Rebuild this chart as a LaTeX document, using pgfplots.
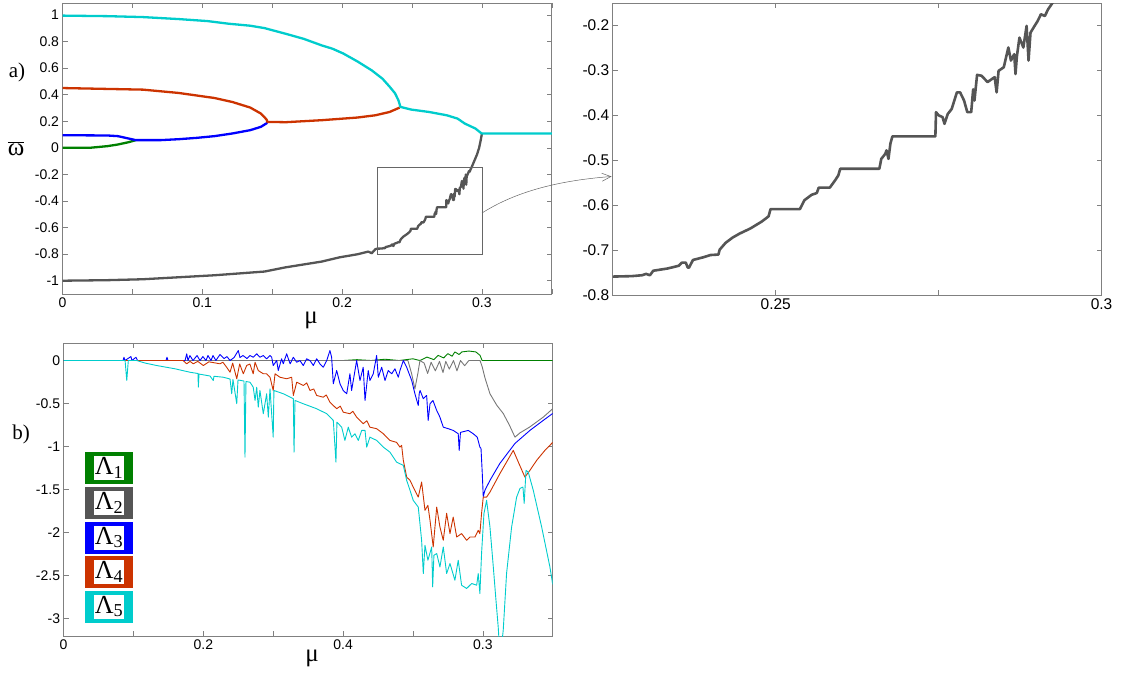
\documentclass[border=0pt]{standalone}
\usepackage{pgfplots}
\pgfplotsset{compat=1.18}
\usepackage{pgfplotstable}
\usepackage{fontspec}
\setmainfont{Liberation Sans}
\newfontfamily\tms{Liberation Serif}
\usetikzlibrary{arrows.meta}
\definecolor{cG}{RGB}{0,128,0}
\definecolor{cK}{RGB}{85,85,85}
\definecolor{cB}{RGB}{0,0,255}
\definecolor{cR}{RGB}{204,51,0}
\definecolor{cC}{RGB}{0,204,204}
\definecolor{frm}{RGB}{128,128,128}

% ---------- panel a) data ----------
\pgfplotstableread{
x y
0 0.995
0.032 0.991
0.0575 0.984
0.0831 0.969
0.1036 0.954
0.1189 0.934
0.1343 0.919
0.1445 0.901
0.1598 0.858
0.1726 0.82
0.1854 0.771
0.1931 0.746
0.2008 0.71
0.211 0.65
0.2212 0.583
0.2289 0.52
0.234 0.46
0.2379 0.41
0.2404 0.355
0.2417 0.308
0.2494 0.288
0.2621 0.270
0.2749 0.245
0.2826 0.22
0.2877 0.183
0.2954 0.145
0.2992 0.113
0.3 0.108
0.35 0.108
}\topC

\pgfplotstableread{
x y
0 0.45
0.0575 0.438
0.0831 0.413
0.1087 0.375
0.1215 0.345
0.1343 0.303
0.1419 0.258
0.146 0.213
0.1465 0.195
0.1598 0.193
0.1854 0.208
0.211 0.228
0.2238 0.245
0.234 0.27
0.2412 0.303
}\topR

\pgfplotstableread{
x y
0 0.095
0.032 0.093
0.0396 0.088
0.0473 0.07
0.0524 0.058
0.0703 0.058
0.0831 0.065
0.0959 0.075
0.1087 0.088
0.1215 0.108
0.1343 0.133
0.1419 0.158
0.1465 0.188
}\topB

\pgfplotstableread{
x y
0 0
0.0192 0
0.032 0.0125
0.0396 0.025
0.0473 0.0425
0.0524 0.058
}\topG

\pgfplotstableread{
x y
0 -1.0
0.032 -0.996
0.0575 -0.989
0.0831 -0.974
0.1087 -0.959
0.1445 -0.931
0.1598 -0.899
0.1854 -0.856
0.1982 -0.824
0.211 -0.801
0.2187 -0.781
0.2212 -0.793
0.2238 -0.763
0.225 -0.759
0.2279 -0.758
0.2295 -0.756
0.2301 -0.753
0.2307 -0.756
0.2312 -0.746
0.2334 -0.741
0.2351 -0.735
0.2356 -0.728
0.2362 -0.728
0.2365 -0.739
0.2367 -0.739
0.2373 -0.722
0.2389 -0.716
0.2400 -0.711
0.2412 -0.710
0.2414 -0.699
0.2423 -0.684
0.2434 -0.672
0.2445 -0.663
0.2461 -0.652
0.2478 -0.637
0.2489 -0.625
0.2492 -0.609
0.2537 -0.609
0.2544 -0.589
0.2555 -0.577
0.2563 -0.573
0.2566 -0.561
0.2583 -0.561
0.2591 -0.545
0.2596 -0.534
0.2599 -0.519
0.2659 -0.519
0.2662 -0.497
0.2668 -0.486
0.2670 -0.478
0.2673 -0.497
0.2676 -0.463
0.2679 -0.447
0.2745 -0.447
0.2746 -0.393
0.2750 -0.400
0.2756 -0.404
0.2759 -0.419
0.2764 -0.397
0.2770 -0.386
0.2778 -0.349
0.2783 -0.349
0.2789 -0.367
0.2794 -0.393
0.2800 -0.393
0.2803 -0.342
0.2805 -0.367
0.2809 -0.310
0.2816 -0.312
0.2825 -0.326
0.2836 -0.315
0.2839 -0.349
0.2842 -0.301
0.2850 -0.293
0.2857 -0.249
0.2861 -0.278
0.2866 -0.264
0.2868 -0.308
0.2870 -0.270
0.2874 -0.227
0.2880 -0.249
0.2885 -0.201
0.2888 -0.278
0.2891 -0.216
0.2896 -0.204
0.2902 -0.190
0.2907 -0.175
0.2913 -0.179
0.2918 -0.164
0.2927 -0.145
0.2945 -0.10
0.2965 -0.05
0.2980 0.0
0.2992 0.06
0.3 0.108
}\topK

% ---------- panel b) data ----------
\pgfplotstableread{
x y
0 0
0.2 0
0.21 0.01
0.22 0
0.23 0.015
0.24 0
0.25 0.02
0.255 0
0.26 0.04
0.265 0.01
0.268 0.06
0.272 0.03
0.275 0.08
0.278 0.05
0.28 0.10
0.283 0.07
0.285 0.10
0.29 0.11
0.295 0.10
0.298 0.06
0.2995 0.0
0.35 0
}\lamA

\pgfplotstableread{
x y
0 0
0.2464 0
0.249 -0.15
0.2514 -0.33
0.2535 -0.15
0.255 0
0.258 -0.03
0.2605 -0.15
0.263 -0.02
0.266 -0.12
0.269 -0.01
0.2715 -0.14
0.2735 -0.01
0.276 -0.10
0.279 0
0.2815 -0.12
0.284 0
0.287 -0.06
0.29 0
0.298 0
0.2995 -0.07
0.3015 -0.20
0.3051 -0.386
0.31 -0.52
0.3146 -0.615
0.319 -0.75
0.323 -0.89
0.3266 -0.84
0.3334 -0.774
0.3432 -0.658
0.35 -0.56
}\lamB

\pgfplotstableread{
x y
0 0
0.0425 0
0.0432 0.038
0.0439 0
0.0482 0.046
0.0489 0
0.0518 0.038
0.0529 0
0.0733 0
0.074 0.038
0.0747 0
0.0869 0
0.0881 0.078
0.089 0
0.0904 0.058
0.0926 0
0.0955 0.058
0.0976 0
0.0997 0.046
0.1019 0
0.1033 0.058
0.1055 0
0.1069 0.058
0.109 0
0.1119 0.07
0.1148 0.023
0.1169 0.046
0.1191 0
0.122 0.035
0.125 0.116
0.1262 0.035
0.1284 0.058
0.1312 0.023
0.1334 0.058
0.1357 0.038
0.1382 0.078
0.1405 0.038
0.1429 0.058
0.1453 0.02
0.1477 0.058
0.1489 0.038
0.15 -0.058
0.1525 0
0.1536 -0.116
0.156 0.02
0.1572 -0.038
0.1596 0.078
0.1621 -0.038
0.1644 0.038
0.1668 -0.02
0.1691 0
0.1715 -0.058
0.1739 0.02
0.1763 0
0.1787 -0.058
0.1811 0.02
0.1834 -0.038
0.1858 -0.078
0.1883 0
0.1906 0.116
0.1918 0.038
0.193 -0.27
0.1954 -0.116
0.1978 -0.27
0.2001 -0.348
0.2026 -0.386
0.2049 -0.154
0.2061 -0.348
0.2073 -0.232
0.2097 0
0.2121 -0.232
0.2144 -0.078
0.2157 -0.464
0.218 -0.116
0.2192 -0.232
0.2216 -0.154
0.224 0.058
0.2252 -0.194
0.2276 -0.078
0.23 -0.232
0.2323 -0.116
0.2348 -0.154
0.2371 -0.096
0.2395 -0.194
0.2407 -0.116
0.2431 0
0.2455 -0.078
0.2491 -0.232
0.2514 -0.386
0.2538 -0.522
0.2545 -0.38
0.2551 -0.348
0.2574 -0.444
0.2598 -0.406
0.2609 -0.696
0.2622 -0.502
0.2643 -0.464
0.267 -0.58
0.2693 -0.658
0.2717 -0.774
0.2753 -0.792
0.2788 -0.812
0.2824 -0.85
0.2831 -1.044
0.284 -0.835
0.2896 -0.812
0.2931 -0.85
0.296 -0.89
0.2979 -1.006
0.2987 -1.021
0.2996 -1.311
0.3003 -1.58
0.3015 -1.508
0.3051 -1.392
0.3122 -1.195
0.323 -0.963
0.3337 -0.812
0.3432 -0.696
0.35 -0.615
}\lamC

\pgfplotstableread{
x y
0 0
0.0855 0
0.0881 -0.038
0.0905 -0.01
0.0928 -0.038
0.096 -0.01
0.1 -0.058
0.104 -0.015
0.1119 -0.038
0.114 -0.02
0.1167 -0.078
0.1191 -0.136
0.121 -0.03
0.1239 -0.212
0.126 -0.04
0.1286 -0.154
0.131 -0.058
0.1333 -0.04
0.1357 -0.154
0.137 -0.02
0.1393 -0.116
0.1429 -0.154
0.1453 -0.154
0.1477 -0.194
0.15 -0.348
0.1513 -0.154
0.1548 -0.194
0.1596 -0.212
0.1632 -0.194
0.1644 -0.406
0.1668 -0.252
0.1715 -0.29
0.174 -0.26
0.1763 -0.348
0.179 -0.33
0.1811 -0.406
0.1858 -0.426
0.188 -0.40
0.1906 -0.484
0.1954 -0.56
0.198 -0.53
0.2001 -0.6
0.2049 -0.618
0.207 -0.59
0.2097 -0.658
0.2144 -0.734
0.217 -0.70
0.2192 -0.774
0.224 -0.792
0.2288 -0.85
0.2335 -0.928
0.2383 -0.951
0.2407 -1.006
0.2419 -0.986
0.2431 -1.16
0.2455 -1.354
0.2479 -1.392
0.2502 -1.47
0.2538 -1.586
0.2562 -1.412
0.2586 -1.74
0.2607 -1.682
0.2622 -1.856
0.2645 -2.166
0.267 -1.702
0.2693 -1.934
0.2717 -2.088
0.2741 -1.775
0.2765 -2.01
0.2788 -1.818
0.2813 -2.05
0.2848 -2.01
0.2884 -2.088
0.2908 -2.05
0.2944 -2.05
0.2967 -1.972
0.2979 -2.01
0.2991 -1.775
0.3003 -1.586
0.3027 -1.586
0.3051 -1.528
0.3122 -1.314
0.3218 -1.044
0.3258 -1.195
0.3301 -1.354
0.3337 -1.276
0.3385 -1.16
0.3444 -1.044
0.35 -0.951
}\lamD

\pgfplotstableread{
x y
0 0
0.044 0
0.0452 -0.232
0.0463 0
0.0523 0
0.0582 -0.029
0.0666 -0.058
0.0797 -0.096
0.0904 -0.136
0.0962 -0.151
0.0964 -0.31
0.0969 -0.157
0.1048 -0.18
0.1071 -0.232
0.1076 -0.183
0.1143 -0.194
0.1191 -0.215
0.1203 -0.386
0.1212 -0.22
0.1239 -0.502
0.1248 -0.226
0.1291 -0.238
0.1298 -1.122
0.1305 -0.244
0.1334 -0.252
0.1357 -0.31
0.137 -0.464
0.1382 -0.31
0.1393 -0.542
0.1405 -0.348
0.1429 -0.618
0.1453 -0.386
0.1465 -0.658
0.1477 -0.328
0.15 -0.89
0.1505 -0.348
0.1572 -0.386
0.1644 -0.444
0.1649 -1.064
0.1656 -0.464
0.1715 -0.502
0.1811 -0.56
0.1883 -0.618
0.193 -0.696
0.1949 -1.18
0.1956 -0.716
0.199 -0.774
0.2013 -0.928
0.2037 -0.774
0.2061 -0.89
0.2085 -0.85
0.2109 -0.928
0.2133 -0.812
0.2157 -0.812
0.2169 -1.006
0.2192 -0.89
0.224 -0.928
0.2288 -1.006
0.2335 -1.064
0.2383 -1.18
0.2431 -1.218
0.2455 -1.392
0.2479 -1.508
0.2502 -1.624
0.2538 -1.702
0.2562 -2.088
0.2574 -2.474
0.2586 -2.146
0.2607 -2.32
0.2634 -2.166
0.2641 -2.63
0.265 -2.262
0.267 -2.242
0.2693 -2.398
0.2717 -2.166
0.2741 -2.474
0.2765 -2.358
0.28 -2.552
0.2824 -2.32
0.2848 -2.61
0.2884 -2.648
0.292 -2.59
0.2956 -2.61
0.2967 -2.474
0.2979 -2.707
0.2991 -2.239
0.3008 -1.778
0.3027 -1.624
0.3051 -1.934
0.3075 -2.398
0.3094 -2.784
0.311 -3.094
0.3118 -3.3
0.3135 -3.3
0.3146 -3.132
0.317 -2.471
0.3206 -1.934
0.3242 -1.586
0.3266 -1.485
0.3287 -1.47
0.3296 -1.659
0.3309 -1.276
0.3325 -1.296
0.3361 -1.508
0.3421 -1.934
0.348 -2.398
0.35 -2.6
}\lamE

\tikzset{lbl/.style={font=\tms\fontsize{21}{23}\selectfont},
         biglbl/.style={font=\tms\fontsize{25}{27}\selectfont}}
\pgfplotsset{
  base/.style={
    scale only axis, anchor=south west,
    axis line style={frm, line width=0.7pt},
    tick style={frm, line width=0.6pt},
    major tick length=5pt,
    tick align=inside,
    ticklabel style={font=\fontsize{14}{16}\selectfont},
    /pgf/number format/assume math mode=true,
  },
  thickline/.style={line width=2.3pt, line join=round},
  thinline/.style={line width=0.9pt, line join=round},
}

\begin{document}
\begin{tikzpicture}
% ---------------- panel a) ----------------
\begin{axis}[base,
  at={(62.5pt,379pt)}, width=489.3pt, height=291pt,
  xmin=0, xmax=0.35, ymin=-1.1, ymax=1.09,
  xtick={0,0.05,0.1,0.15,0.2,0.25,0.3,0.35},
  xticklabels={0,,0.1,,0.2,,0.3,},
  ytick={-1,-0.8,-0.6,-0.4,-0.2,0,0.2,0.4,0.6,0.8,1},
  xlabel={μ},
  xlabel style={biglbl, at={(axis description cs:0.508,-0.092)}, anchor=center},
  ylabel={$\overline{\mbox{\tms ω}}$},
  ylabel style={biglbl, rotate=-90, at={(axis description cs:-0.095,0.5)}, anchor=center},
]
\addplot[cG, thickline] table[x=x,y=y]{\topG};
\addplot[cB, thickline] table[x=x,y=y]{\topB};
\addplot[cR, thickline] table[x=x,y=y]{\topR};
\addplot[cK, thickline] table[x=x,y=y]{\topK};
\addplot[cC, thickline] table[x=x,y=y]{\topC};
\draw[black!60, line width=0.6pt] (axis cs:0.225,-0.8) rectangle (axis cs:0.3,-0.15);
\end{axis}

% ---------------- zoom panel ----------------
\begin{axis}[base,
  at={(612.8pt,378pt)}, width=488.7pt, height=292pt,
  xmin=0.225, xmax=0.3, ymin=-0.8, ymax=-0.15,
  xtick={0.25,0.275,0.3},
  xticklabels={0.25,,0.3},
  ytick={-0.8,-0.7,-0.6,-0.5,-0.4,-0.3,-0.2},
  ticklabel style={font=\fontsize{15.5}{17}\selectfont},
]
\addplot[cK, line width=2.6pt, line join=round] table[x=x,y=y]{\topK};
\end{axis}

% ---------------- panel b) ----------------
\begin{axis}[base,
  at={(63.6pt,37pt)}, width=489.1pt, height=292.7pt,
  xmin=0, xmax=0.35, ymin=-3.2, ymax=0.2,
  xtick={0,0.05,0.1,0.15,0.2,0.25,0.3,0.35},
  xticklabels={0,,0.2,,0.4,,0.3,},
  ytick={-3,-2.5,-2,-1.5,-1,-0.5,0},
  xlabel={μ},
  xlabel style={biglbl, at={(axis description cs:0.508,-0.078)}, anchor=center},
]
\addplot[cG, thinline] table[x=x,y=y]{\lamA};
\addplot[cK!80, thinline] table[x=x,y=y]{\lamB};
\addplot[cB, thinline] table[x=x,y=y]{\lamC};
\addplot[cR, thinline] table[x=x,y=y]{\lamD};
\addplot[cC, thinline] table[x=x,y=y]{\lamE};
\end{axis}

% legend boxes
\foreach \c/\i/\yy in {cG/1/205, cK/2/170, cB/3/135.5, cR/4/101, cC/5/66.5}{
  \node[fill=\c, minimum width=48pt, minimum height=32pt, inner sep=0pt] at (109pt,\yy pt) {};
  \node[fill=white, minimum width=30pt, minimum height=24pt, inner sep=0pt,
        font=\tms\fontsize{26}{26}\selectfont] at (109pt,\yy pt) {Λ\textsubscript{\i}};
}

% panel letters
\node[lbl] at (17pt,601pt) {a)};
\node[lbl] at (21pt,239pt) {b)};

% arrow from the box to the zoom panel
\draw[black!60, line width=0.5pt, -{Straight Barb[length=9pt,width=8pt]}]
  (482pt,460pt) .. controls (512pt,479pt) and (552pt,492pt) .. (611.5pt,496.5pt);

\pgfresetboundingbox
\path[use as bounding box] (0pt,0pt) rectangle (1123pt,673pt);
\end{tikzpicture}
\end{document}
